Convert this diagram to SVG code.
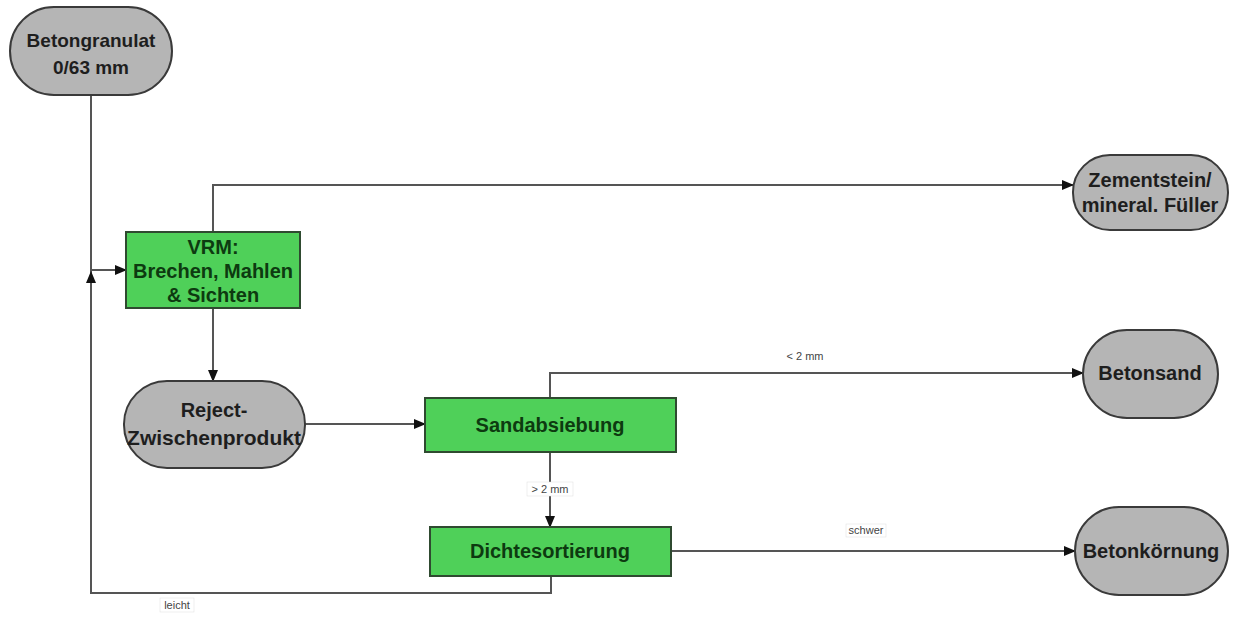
<svg xmlns="http://www.w3.org/2000/svg" width="1234" height="617" viewBox="0 0 1234 617">
<defs>
<marker id="arr" markerWidth="12" markerHeight="10" refX="11" refY="5" orient="auto" markerUnits="userSpaceOnUse">
<path d="M0,0 L12,5 L0,10 Z" fill="#111"/>
</marker>
</defs>
<style>
.term{fill:#b5b5b5;stroke:#3a3a3a;stroke-width:2}
.proc{fill:#4fd059;stroke:#2f4a30;stroke-width:2}
.t{font-family:"Liberation Sans",Arial,sans-serif;font-weight:bold;font-size:20px;fill:#1e1e1e;text-anchor:middle}
.tg{fill:#0d3a10}
.c{fill:none;stroke:#555;stroke-width:2}
.lbl{font-family:"Liberation Sans",Arial,sans-serif;font-size:11px;fill:#444;text-anchor:middle}
</style>
<rect width="1234" height="617" fill="#fff"/>
<g id="connectors">
<path class="c" d="M91,95 V593 H551 V576"/>
<path class="c" d="M91,285 V272" marker-end="url(#arr)"/>
<path class="c" d="M91,270 H126" marker-end="url(#arr)"/>
<path class="c" d="M213,232 V185 H1073" marker-end="url(#arr)"/>
<path class="c" d="M213,308 V381" marker-end="url(#arr)"/>
<path class="c" d="M305,424 H425" marker-end="url(#arr)"/>
<path class="c" d="M550,398 V373 H1083" marker-end="url(#arr)"/>
<path class="c" d="M550,452 V527" marker-end="url(#arr)"/>
<path class="c" d="M671,551 H1075" marker-end="url(#arr)"/>
<rect x="784" y="350" width="42" height="13" fill="#fff"/>
<text class="lbl" x="805" y="360">&lt; 2 mm</text>
<rect x="527" y="482" width="46" height="14" fill="#fff" stroke="#ddd" stroke-width="0.5"/>
<text class="lbl" x="550" y="493">&gt; 2 mm</text>
<rect x="846" y="524" width="40" height="13" fill="#fff" stroke="#ddd" stroke-width="0.5"/>
<text class="lbl" x="866" y="534">schwer</text>
<rect x="160" y="598" width="34" height="14" fill="#fff" stroke="#ddd" stroke-width="0.5"/>
<text class="lbl" x="177" y="609">leicht</text>
</g>
<g id="betongranulat">
<rect class="term" x="10" y="7" width="162" height="88" rx="44" ry="44"/>
<text class="t" x="91" y="47" style="font-size:19px">Betongranulat</text>
<text class="t" x="91" y="74" style="font-size:19px">0/63 mm</text>
</g>
<g id="vrm">
<rect class="proc" x="126" y="232" width="174" height="76"/>
<text class="t tg" x="213" y="254">VRM:</text>
<text class="t tg" x="213" y="278">Brechen, Mahlen</text>
<text class="t tg" x="213" y="302">&amp; Sichten</text>
</g>
<g id="zementstein">
<rect class="term" x="1073" y="155" width="155" height="75" rx="37" ry="37"/>
<text class="t" x="1150" y="187">Zementstein/</text>
<text class="t" x="1150" y="212">mineral. Füller</text>
</g>
<g id="reject">
<rect class="term" x="124" y="381" width="181" height="87" rx="43" ry="43"/>
<text class="t" x="214" y="417">Reject-</text>
<text class="t" x="214" y="445" style="font-size:21px">Zwischenprodukt</text>
</g>
<g id="sandabsiebung">
<rect class="proc" x="425" y="398" width="251" height="54"/>
<text class="t tg" x="550" y="432">Sandabsiebung</text>
</g>
<g id="betonsand">
<rect class="term" x="1083" y="330" width="135" height="88" rx="44" ry="44"/>
<text class="t" x="1150" y="380">Betonsand</text>
</g>
<g id="dichtesortierung">
<rect class="proc" x="430" y="527" width="241" height="49"/>
<text class="t tg" x="550" y="558">Dichtesortierung</text>
</g>
<g id="betonkoernung">
<rect class="term" x="1075" y="507" width="153" height="88" rx="44" ry="44"/>
<text class="t" x="1151" y="558">Betonkörnung</text>
</g>
</svg>
